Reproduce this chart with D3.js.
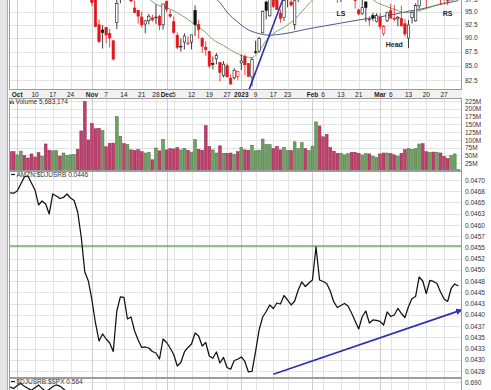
<!DOCTYPE html>
<html>
<head>
<meta charset="utf-8">
<script src="https://cdn.jsdelivr.net/npm/d3@7"></script>
<style>
  body { margin: 0; background: #fff; }
  svg { display: block; font-family: "Liberation Sans", Arial, sans-serif; }
</style>
</head>
<body>
<div class="chart"></div>
<script>
// ---- calendar (NYSE trading days) ----
const holidays = ["2022-11-24", "2022-12-26", "2023-01-02", "2023-01-16", "2023-02-20"];
const fmt = d3.timeFormat("%Y-%m-%d");
function tradingDays(a, b) {
  return d3.timeDay.range(new Date(a + "T00:00"), d3.timeDay.offset(new Date(b + "T00:00"), 1))
    .filter(d => d.getDay() !== 0 && d.getDay() !== 6)
    .map(fmt)
    .filter(d => !holidays.includes(d));
}
const allDays = tradingDays("2022-09-29", "2023-04-03");
const days = tradingDays("2022-09-29", "2023-03-31");

// ---- data ----
const open = [114.0,114.1,113.6,118.0,119.0,119.9,118.0,115.1,112.7,112.5,
  107.9,114.1,110.8,119.1,114.7,113.8,114.8,119.9,119.6,116.0,
  113.9,97.9,103.56,103.99,97.32,92.47,91.49,91.95,90.79,89.47,
  92.94,97.88,98.77,103.71,98.02,95.73,95.24,93.97,92.62,93.24,
  93.79,93.93,94.04,92.47,96.99,94.48,93.05,90.50,88.34,89.24,
  88.90,89.21,95.23,92.50,89.88,88.27,87.51,85.33,86.18,85.52,
  83.25,84.97,82.80,82.87,83.12,85.46,86.55,85.33,83.03,87.46,
  87.57,90.93,96.93,94.18,98.68,97.25,94.74,93.86,97.56,96.93,
  92.56,98.24,99.53,101.09,101.16,102.53,110.25,105.26,102.93,101.17,
  102.04,101.32,97.56,97.85,98.41,99.09,99.21,97.80,95.34,94.66,
  96.94,93.53,94.28,93.14,93.87,90.84,93.22,95.19,93.74,93.60,
  93.68,92.67,89.97,93.83,93.22,96.15,99.79,98.41,98.14,100.45,
  100.43,98.07,99.07,98.11,98.69,101.55,102.16];
const high = [115.6,116.9,116.4,121.1,121.5,121.5,118.2,116.0,115.5,113.8,
  113.4,114.9,114.0,119.5,116.4,118.0,119.6,120.4,121.2,118.5,
  114.1,104.0,104.87,104.58,97.74,93.50,92.44,92.10,91.72,89.48,
  98.69,101.19,100.12,103.79,99.85,97.18,95.24,95.02,93.35,94.58,
  94.43,96.40,94.41,96.54,97.23,95.36,94.06,91.04,89.89,90.86,
  90.30,90.58,96.25,93.46,90.14,89.35,87.63,86.61,87.23,85.68,
  85.78,85.35,83.48,84.55,84.05,86.96,86.98,85.42,86.40,89.48,
  90.19,95.26,97.19,98.37,98.89,99.32,95.44,97.35,97.78,98.09,
  97.24,99.49,103.49,101.74,103.35,106.24,114.00,108.78,103.95,102.41,
  102.67,101.78,98.20,99.68,100.92,101.17,100.85,97.94,95.61,97.34,
  97.01,94.14,94.78,94.69,94.68,92.40,94.98,96.55,96.36,94.17,
  96.21,93.57,93.38,95.07,96.67,100.65,100.66,98.48,100.85,102.10,
  101.06,98.30,99.34,98.44,100.42,103.04,103.49];
const low = [112.0,112.8,112.4,117.0,117.2,119.3,113.8,112.1,110.9,111.4,
  106.6,106.6,110.4,114.2,113.2,113.2,114.5,116.5,118.9,114.7,
  109.8,97.7,100.74,96.06,92.01,89.02,88.04,89.04,88.23,85.87,
  91.65,96.66,97.29,97.34,96.90,94.71,92.69,91.94,90.87,92.53,
  93.07,92.59,91.44,91.53,94.92,93.78,90.82,87.90,87.48,87.88,
  88.63,87.87,90.35,89.87,87.25,86.73,84.51,84.33,85.21,82.25,
  82.93,83.00,81.69,82.55,82.47,84.21,83.36,83.07,81.43,87.08,
  87.29,90.93,93.50,94.12,95.73,95.38,92.86,93.20,95.86,96.00,
  91.52,96.92,99.53,99.01,101.14,101.24,108.88,102.52,100.65,98.08,
  98.78,97.57,96.76,96.91,97.52,98.45,98.00,95.65,94.27,94.36,
  93.04,92.32,93.14,92.92,91.59,90.38,93.00,93.74,93.21,92.18,
  92.18,90.25,88.12,92.71,93.07,95.61,97.46,95.70,98.00,98.61,
  97.62,96.40,97.08,96.29,98.56,101.01,101.95];
const close = [114.80,113.00,115.88,121.09,120.95,120.30,114.56,113.67,112.21,112.90,
  112.53,106.90,113.79,116.36,115.07,115.25,119.32,119.82,120.60,115.66,
  110.96,103.41,102.44,96.79,92.12,89.30,90.98,90.53,89.98,86.14,
  96.63,100.79,98.49,98.94,97.12,94.85,94.14,92.46,93.20,94.13,
  93.41,93.95,92.42,96.54,95.50,94.13,91.01,88.25,88.46,90.35,
  89.09,90.55,92.49,91.58,88.45,87.86,84.92,85.19,86.77,83.79,
  85.25,83.04,81.82,84.18,84.00,85.82,85.14,83.12,86.08,87.36,
  89.87,95.09,95.27,98.12,96.05,95.46,93.68,97.25,97.52,96.32,
  97.18,99.22,102.24,100.55,103.13,105.15,112.91,103.39,102.18,102.11,
  100.05,98.24,97.61,99.54,99.70,101.16,98.15,97.20,94.58,95.79,
  95.82,93.50,93.76,94.23,92.17,92.13,94.90,93.75,93.55,93.92,
  92.25,90.73,92.43,94.88,96.20,100.04,98.95,97.71,100.61,98.70,
  98.71,98.13,98.04,97.24,100.25,102.00,103.29];
const prevClose0 = 115.15;

// volume, millions
const volume = [62,62,52,64,50,42,55,45,59,48,
  87,67,65,66,48,58,51,52,53,70,
  129,223,100,153,136,137,130,78,89,90,
  175,112,88,85,68,66,69,62,58,60,
  36,74,65,102,68,72,71,75,68,73,
  67,61,101,70,67,146,79,68,58,81,
  57,57,58,54,62,76,68,67,83,65,
  67,103,86,85,72,79,68,76,66,66,
  94,72,91,72,66,80,158,145,110,118,
  76,64,57,57,52,56,60,60,57,52,
  56,55,48,44,55,58,58,56,52,48,
  57,69,72,70,72,87,88,62,60,61,
  60,58,47,40,50,55,5.683174];

// AMZN:$DJUSRB ratio
const ratio = [0.046715,0.046706,0.046755,0.046911,0.047067,0.047089,0.046933,0.046778,0.046444,0.046533,
  0.046466,0.046244,0.046689,0.046644,0.046588,0.046611,0.046689,0.046600,0.046544,0.046288,
  0.045732,0.044953,0.044753,0.044330,0.043818,0.043418,0.043574,0.043462,0.043373,0.043184,
  0.044085,0.044397,0.044386,0.043907,0.043952,0.043640,0.043440,0.043273,0.043284,0.043262,
  0.043184,0.043151,0.043017,0.043462,0.043384,0.043262,0.043117,0.042861,0.042939,0.043173,
  0.043273,0.043351,0.043596,0.043529,0.043306,0.043384,0.043084,0.043033,0.043173,0.042928,
  0.043051,0.042828,0.042788,0.042984,0.043011,0.043062,0.042962,0.042728,0.042739,0.043173,
  0.043663,0.043952,0.044074,0.044219,0.044141,0.044263,0.044241,0.044430,0.044330,0.044219,
  0.044308,0.044553,0.044731,0.044630,0.044708,0.044775,0.045509,0.044775,0.044742,0.044697,
  0.044530,0.044286,0.044163,0.044208,0.044252,0.044197,0.044041,0.043863,0.043685,0.043963,
  0.044085,0.043818,0.043885,0.043874,0.043852,0.043774,0.044063,0.043963,0.043996,0.044141,
  0.044030,0.043941,0.044185,0.044363,0.044408,0.044842,0.044753,0.044475,0.044764,0.044742,
  0.044697,0.044508,0.044352,0.044297,0.044586,0.044686,0.044642];
const ratioResistance = 0.04553;

// $DJUSRB:$SPX (only the top of this panel is in view)
const sprRatio = [0.6878,0.6870,0.6884,0.6893,0.6880,0.6871,0.6862,0.6874,0.6886,0.6870,
  0.6858,0.6866,0.6879,0.6887,0.6881,0.6868,0.6855,0.6840,0.6810,0.6780];

// moving averages
const ma20Dates = ["2022-11-22","2022-11-28","2022-12-01","2022-12-06","2022-12-09","2022-12-13","2022-12-16",
  "2022-12-20","2022-12-23","2022-12-29","2023-01-04","2023-01-06","2023-01-10","2023-01-12","2023-01-17",
  "2023-01-20","2023-01-25","2023-01-27","2023-01-31","2023-02-02"];
const ma20Vals = [98.3,96.5,95.8,94.8,93.5,92.5,91.0,89.7,88.6,87.4,86.6,86.4,87.6,89.5,90.8,92.0,93.5,95.0,96.6,98.0];
const ma20bDates = ["2023-02-24","2023-02-28","2023-03-03","2023-03-08","2023-03-10","2023-03-14","2023-03-17",
  "2023-03-22","2023-03-27","2023-03-31"];
const ma20bVals = [98.0,96.9,96.0,95.2,94.8,94.9,95.4,96.1,96.8,97.6];
const ma50Dates = ["2022-12-20","2022-12-22","2022-12-27","2022-12-30","2023-01-04","2023-01-06","2023-01-10",
  "2023-01-13","2023-01-18","2023-01-24","2023-01-30","2023-02-06","2023-02-13","2023-02-21","2023-03-01",
  "2023-03-07","2023-03-13","2023-03-17","2023-03-23","2023-03-29","2023-03-31"];
const ma50Vals = [98.0,96.8,94.9,93.0,91.9,91.2,90.8,90.5,90.6,91.0,91.6,92.2,92.8,93.4,94.0,94.5,95.1,95.6,96.3,96.9,97.2];

// annotations
const trendDates = ["2023-01-05", "2023-01-20"], trendVals = [80.6, 98.1];
const arrowDates = ["2023-01-17", "2023-04-03"], arrowVals = [0.04268, 0.04411];
const notes = [["LS", "2023-02-13", 94.7], ["Head", "2023-03-07", 88.7], ["RS", "2023-03-28", 94.7]];

// axis ticks
const tickDates = ["2022-10-03","2022-10-10","2022-10-17","2022-10-24","2022-11-01","2022-11-07","2022-11-14",
  "2022-11-21","2022-11-28","2022-12-01","2022-12-05","2022-12-12","2022-12-19","2022-12-27","2023-01-03",
  "2023-01-09","2023-01-17","2023-01-23","2023-02-01","2023-02-06","2023-02-13","2023-02-21","2023-03-01",
  "2023-03-06","2023-03-13","2023-03-20","2023-03-27"];
const tickLabels = ["Oct","10","17","24","Nov","7","14","21","28","Dec","5","12","19","27","2023",
  "9","17","23","Feb","6","13","21","Mar","6","13","20","27"];
const priceTicks = [82.5, 85, 87.5, 90, 92.5, 95, 97.5];
const volTicks = [25, 50, 75, 100, 125, 150, 175, 200, 225];
const ratioTicks = d3.range(18).map(k => 0.0470 - k * 0.00025);
const ratioTickLabels = ["0.0470","0.0468","0.0465","0.0463","0.0460","0.0457","0.0455","0.0452","0.0450",
  "0.0448","0.0445","0.0443","0.0440","0.0437","0.0435","0.0433","0.0430","0.0428"];
const sprTicks = [0.690];

// ---- layout ----
const W = 491, H = 390;
const L = 9, R = 462;
const pricePanel = {top: -1, bottom: 90};
const volPanel = {top: 98, bottom: 171};
const ratioPanel = {top: 171, bottom: 378};
const sprPanel = {top: 378, bottom: 420};

const svg = d3.select(".chart").append("svg").attr("width", W).attr("height", H);

const x = d3.scaleLinear().domain([0, days.length - 1]).range([10.1, 458.3]);
const xd = d => x(allDays.indexOf(d));
const yP = d3.scaleLog().domain([80.81, 97.33]).range([pricePanel.bottom, 0]);
const yV = d3.scaleLinear().domain([0, 235]).range([volPanel.bottom, volPanel.top]);
const yR = d3.scaleLinear().domain([0.042594, 0.0472]).range([ratioPanel.bottom, ratioPanel.top]);
const yS = d3.scaleLinear().domain([0.60, 0.6918]).range([378 + 0.0918 / 0.01 * 22, 378]);

// left window strip
svg.append("rect").attr("x", 0).attr("y", 0).attr("width", 7).attr("height", H).attr("fill", "#e3e3e8");
svg.append("line").attr("x1", 7.5).attr("x2", 7.5).attr("y1", 0).attr("y2", H).attr("stroke", "#a9a9b2");
// date band
svg.append("rect").attr("x", L).attr("y", pricePanel.bottom).attr("width", R - L)
  .attr("height", volPanel.top - pricePanel.bottom).attr("fill", "#f1f1f1");

const panels = [
  {p: pricePanel, y: yP, ticks: priceTicks},
  {p: volPanel, y: yV, ticks: volTicks},
  {p: ratioPanel, y: yR, ticks: ratioTicks},
  {p: sprPanel, y: yS, ticks: sprTicks}
];
const isMonth = l => isNaN(+l) || l === "2023";

panels.forEach(o => {
  const g = svg.append("g");
  g.append("rect").attr("x", L + 0.5).attr("y", o.p.top + 0.5).attr("width", R - L - 1)
    .attr("height", o.p.bottom - o.p.top - 1).attr("fill", "#fff");
  g.selectAll("line.h").data(o.ticks).join("line")
    .attr("x1", L).attr("x2", R)
    .attr("y1", d => Math.round(o.y(d)) + 0.5).attr("y2", d => Math.round(o.y(d)) + 0.5)
    .attr("stroke", "#e3e3e3");
  g.selectAll("line.v").data(tickDates).join("line")
    .attr("x1", d => Math.round(xd(d)) + 0.5).attr("x2", d => Math.round(xd(d)) + 0.5)
    .attr("y1", o.p.top).attr("y2", o.p.bottom)
    .attr("stroke", (d, i) => isMonth(tickLabels[i]) ? "#cdcdcd" : "#e3e3e3");
});

const clip = (id, p) => svg.append("clipPath").attr("id", id).append("rect")
  .attr("x", L + 1).attr("y", p.top + 1).attr("width", R - L - 2).attr("height", p.bottom - p.top - 2);
clip("cp", pricePanel); clip("cv", volPanel); clip("cr", ratioPanel); clip("cs", sprPanel);

// ---- price panel ----
const gp = svg.append("g").attr("clip-path", "url(#cp)");
const line = (xs, ys) => d3.line().curve(d3.curveMonotoneX).x((d, i) => xd(xs[i])).y(d => yP(d))(ys);
gp.append("path").attr("d", line(ma50Dates, ma50Vals)).attr("fill", "none").attr("stroke", "#3b4680").attr("stroke-width", 0.9);
gp.append("path").attr("d", line(ma20Dates, ma20Vals)).attr("fill", "none").attr("stroke", "#6a9e58").attr("stroke-width", 0.9);
gp.append("path").attr("d", line(ma20bDates, ma20bVals)).attr("fill", "none").attr("stroke", "#6a9e58").attr("stroke-width", 0.9);

const candles = days.map((d, i) => ({
  i, o: open[i], h: high[i], l: low[i], c: close[i],
  pc: i === 0 ? prevClose0 : close[i - 1]
}));
const col = d => d.c >= d.pc ? "#111" : "#e0161c";
gp.selectAll("line.wick").data(candles).join("line")
  .attr("x1", d => x(d.i)).attr("x2", d => x(d.i))
  .attr("y1", d => yP(d.h)).attr("y2", d => yP(d.l))
  .attr("stroke", col).attr("stroke-width", 0.8);
gp.selectAll("rect.body").data(candles).join("rect")
  .attr("x", d => x(d.i) - 1.2).attr("width", 2.4)
  .attr("y", d => yP(Math.max(d.o, d.c)))
  .attr("height", d => Math.max(0.8, Math.abs(yP(d.o) - yP(d.c))))
  .attr("fill", d => d.c > d.o ? "#fff" : col(d))
  .attr("stroke", col).attr("stroke-width", 0.6);

gp.append("line")
  .attr("x1", xd(trendDates[0])).attr("y1", yP(trendVals[0]))
  .attr("x2", xd(trendDates[1])).attr("y2", yP(trendVals[1]))
  .attr("stroke", "#2b2fb5").attr("stroke-width", 1.6);

gp.selectAll("text.note").data(notes).join("text")
  .attr("x", d => xd(d[1])).attr("y", d => yP(d[2]) + 2.5)
  .attr("text-anchor", "middle").attr("font-size", 7).attr("font-weight", "bold").attr("fill", "#222")
  .text(d => d[0]);

// date labels
svg.append("g").selectAll("text").data(tickDates).join("text")
  .attr("x", d => xd(d)).attr("y", 96.5).attr("text-anchor", "middle")
  .attr("font-size", 6.5).attr("fill", "#222")
  .attr("font-weight", (d, i) => isMonth(tickLabels[i]) ? "bold" : "normal")
  .text((d, i) => tickLabels[i]);

// ---- volume panel ----
const up = i => close[i] >= (i ? close[i - 1] : prevClose0);
const gv = svg.append("g").attr("clip-path", "url(#cv)");
gv.selectAll("rect").data(days).join("rect")
  .attr("x", (d, i) => x(i) - 1.4).attr("width", 2.8)
  .attr("y", (d, i) => yV(volume[i])).attr("height", (d, i) => yV(0) - yV(volume[i]))
  .attr("fill", (d, i) => up(i) ? "#6f9f63" : "#c1406d")
  .attr("stroke", (d, i) => up(i) ? "#46723f" : "#8a2447")
  .attr("stroke-width", 0.5);
const icon = svg.append("g");
[[10, 3], [11.5, 4.5], [13, 2.5]].forEach(b => icon.append("rect")
  .attr("x", b[0]).attr("y", 104 - b[1]).attr("width", 1).attr("height", b[1]).attr("fill", "#556"));
svg.append("text").attr("x", 15.5).attr("y", 104.3).attr("font-size", 6.5).attr("fill", "#333")
  .text("Volume " + d3.format(",")(Math.round(volume[volume.length - 1] * 1e6)));

// ---- ratio panel ----
const gr = svg.append("g").attr("clip-path", "url(#cr)");
gr.append("line").attr("x1", L).attr("x2", R)
  .attr("y1", yR(ratioResistance)).attr("y2", yR(ratioResistance))
  .attr("stroke", "#1f8a1f").attr("stroke-width", 1.1);
gr.append("path").datum(ratio)
  .attr("d", d3.line().x((d, i) => x(i)).y(d => yR(d)))
  .attr("fill", "none").attr("stroke", "#111").attr("stroke-width", 1.25).attr("stroke-linejoin", "round");

svg.append("defs").append("marker").attr("id", "ah").attr("viewBox", "0 0 10 10")
  .attr("refX", 9).attr("refY", 5).attr("markerWidth", 4).attr("markerHeight", 4).attr("orient", "auto")
  .append("path").attr("d", "M0,0L10,5L0,10Z").attr("fill", "#2b2fb5");
svg.append("line")
  .attr("x1", xd(arrowDates[0])).attr("y1", yR(arrowVals[0]))
  .attr("x2", xd(arrowDates[1])).attr("y2", yR(arrowVals[1]))
  .attr("stroke", "#2b2fb5").attr("stroke-width", 1.6).attr("marker-end", "url(#ah)");

svg.append("line").attr("x1", 11).attr("x2", 15).attr("y1", 174.5).attr("y2", 174.5).attr("stroke", "#111").attr("stroke-width", 1.2);
svg.append("text").attr("x", 16.5).attr("y", 176.8).attr("font-size", 6.5).attr("fill", "#333")
  .text("AMZN:$DJUSRB " + d3.format(".4f")(ratio[ratio.length - 1]));

// ---- $DJUSRB:$SPX panel ----
const gs = svg.append("g").attr("clip-path", "url(#cs)");
gs.append("path").datum(sprRatio)
  .attr("d", d3.line().x((d, i) => x(i)).y(d => yS(d)))
  .attr("fill", "none").attr("stroke", "#111").attr("stroke-width", 1.2);
svg.append("line").attr("x1", 11).attr("x2", 15).attr("y1", 381.5).attr("y2", 381.5).attr("stroke", "#111").attr("stroke-width", 1.2);
svg.append("text").attr("x", 16.5).attr("y", 384).attr("font-size", 6.5).attr("fill", "#333")
  .text("$DJUSRB:$SPX 0.564");

// panel borders on top
[pricePanel, volPanel, ratioPanel, sprPanel].forEach(p => {
  svg.append("rect").attr("x", L + 0.5).attr("y", p.top + 0.5).attr("width", R - L - 1)
    .attr("height", p.bottom - p.top - 1).attr("fill", "none").attr("stroke", "#9c9c9c");
});

// ---- right axes ----
function rightAxis(scale, ticks, fmtFn) {
  const g = svg.append("g").attr("transform", `translate(${R},0)`)
    .call(d3.axisRight(scale).tickValues(ticks).tickSize(0).tickPadding(3).tickFormat(fmtFn));
  g.select(".domain").remove();
  g.selectAll("text").attr("font-size", 6.5).attr("fill", "#333").attr("font-family", "Liberation Sans, Arial, sans-serif");
}
rightAxis(yP, priceTicks, d3.format(".1f"));
rightAxis(yV, volTicks, d => d + "M");
rightAxis(yR, ratioTicks, (d, i) => ratioTickLabels[i]);
rightAxis(yS, sprTicks, d3.format(".3f"));
</script>
</body>
</html>
